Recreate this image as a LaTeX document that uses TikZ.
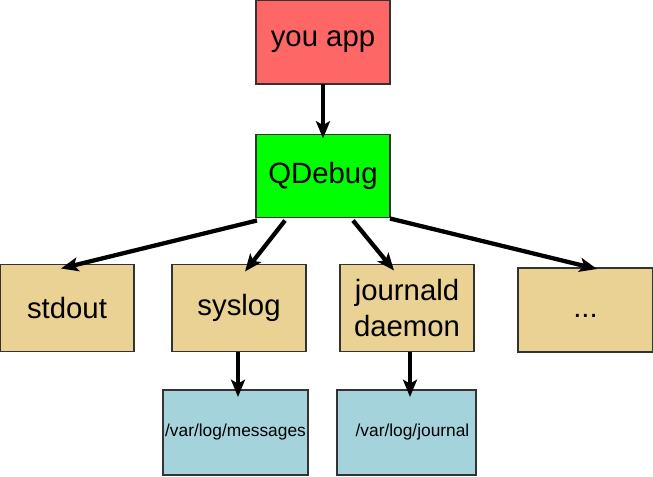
\documentclass[tikz,border=0pt]{standalone}
\usepackage{fontspec}
\setmainfont{Liberation Sans}
\usetikzlibrary{arrows.meta,calc}
\definecolor{appred}{HTML}{FF6666}
\definecolor{qgreen}{HTML}{00FF00}
\definecolor{tan}{HTML}{E9D293}
\definecolor{lblue}{HTML}{A5D3DB}
\definecolor{bord}{HTML}{333333}
\tikzset{
  box/.style={draw=bord, line width=1.1pt, inner sep=0pt, outer sep=0pt, align=center, font=\fontsize{22}{27.5}\selectfont},
  smallbox/.style={box, font=\fontsize{13}{16}\selectfont},
  arr/.style={line width=3.2pt, -{Stealth[length=13pt,width=10.5pt,inset=3pt]}}
}
\begin{document}
\begin{tikzpicture}[x=0.75pt,y=-0.75pt]
\useasboundingbox (0,0) rectangle (653,476);
\node[box, fill=appred, minimum width=100.5pt, minimum height=63pt] (app) at (323,42) {you app};
\node[box, fill=qgreen, minimum width=100.5pt, minimum height=62.25pt] (q) at (323,176) {QDebug};
\node[box, fill=tan, minimum width=100.5pt, minimum height=65.25pt] (so) at (67,308) {stdout};
\node[box, fill=tan, minimum width=100.5pt, minimum height=65.25pt] (sy) at (239,308) {syslog};
\node[box, fill=tan, minimum width=100.5pt, minimum height=65.25pt] (jd) at (407,308) {journald\\daemon};
\node[box, fill=tan, minimum width=101.25pt, minimum height=63pt] (dots) at (585.5,310) {\vphantom{dg}...};
\node[smallbox, fill=lblue, minimum width=108.75pt, minimum height=63.75pt] (msg) at (235.5,432.5) {/var/log/messages};
\node[smallbox, fill=lblue, minimum width=104.25pt, minimum height=63.75pt] (jr) at (406.5,432.5) {\hspace*{9pt}/var/log/journal};
\draw[arr] (app.south) -- ($(q.north)+(0,4)$);
\draw[arr] ($(q.south west)+(1,3)$) -- ($(so.north west)+(61,4)$);
\draw[arr] ($(q.south west)+(29,3)$) -- ($(sy.north west)+(73,7)$);
\draw[arr] ($(q.south west)+(97,3)$) -- ($(jd.north west)+(54,6)$);
\draw[arr] ($(q.south east)+(0,1)$) -- ($(dots.north west)+(79,1)$);
\draw[arr] ($(sy.south)+(-1,0)$) -- ($(msg.north)+(2.5,7)$);
\draw[arr] ($(jd.south)+(3,0)$) -- ($(jr.north)+(3.5,7)$);
\end{tikzpicture}
\end{document}
